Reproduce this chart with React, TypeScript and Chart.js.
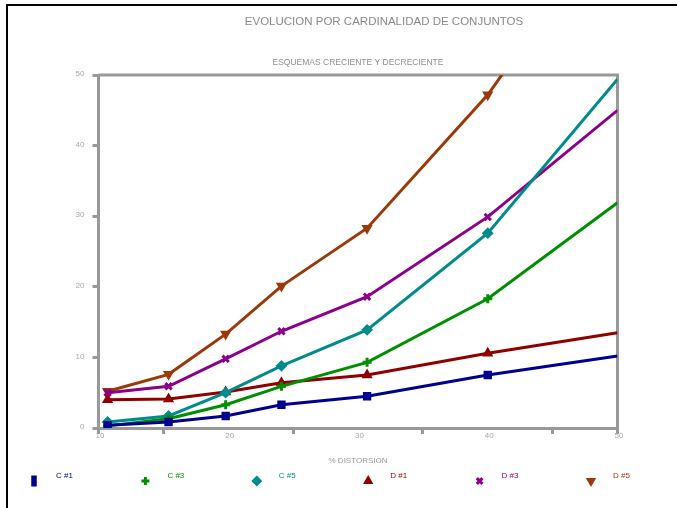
import React, { useEffect, useRef } from 'react';
import { Chart, registerables } from 'chart.js';
import { drawPointLegend } from 'chart.js/helpers';

Chart.register(...registerables);

const FONT = 'Arial, "Liberation Sans", Helvetica, sans-serif';

const TITLE = 'EVOLUCION POR CARDINALIDAD DE CONJUNTOS';
const SUBTITLE = 'ESQUEMAS CRECIENTE Y DECRECIENTE';
const X_TITLE = '% DISTORSION';

const xValues = [10.7, 15.4, 19.8, 24.1, 30.7, 40, 50];
const c1 = [0.4, 0.85, 1.7, 3.3, 4.5, 7.5, 10.2];
const c3 = [0.3, 1.3, 3.3, 5.9, 9.3, 18.3, 31.9];
const c5 = [0.85, 1.7, 5.0, 8.8, 13.9, 27.6, 49.4];
const d1 = [4.0, 4.1, 5.1, 6.4, 7.5, 10.6, 13.5];
const d3 = [5.0, 5.9, 9.8, 13.7, 18.6, 29.9, 45.0];
const d5 = [5.2, 7.6, 13.3, 20.1, 28.3, 47.2, 73];

const seriesNames = ['C #1', 'C #3', 'C #5', 'D #1', 'D #3', 'D #5'];
const seriesValues = [c1, c3, c5, d1, d3, d5];
const seriesColors = ['#000090', '#008f00', '#008c8c', '#900000', '#8c008c', '#9a3a0a'];
const pointStyles = ['rect', 'cross', 'rectRot', 'triangle', 'crossRot', 'triangle'];
const pointRotations = [0, 0, 0, 0, 0, 180];
const pointBorders = [2, 3, 2, 2, 3, 2];

const X_MIN = 10;
const X_MAX = 50;
const X_STEP = 5;
const X_LABEL_STEP = 10;
const Y_MIN = 0;
const Y_MAX = 50;
const Y_STEP = 10;

const AXIS_GRAY = '#999999';
const LABEL_GRAY = '#a8a8a8';

const decorPlugin = {
  id: 'decor',
  beforeDatasetsDraw(chart: any) {
    const { ctx, chartArea: a } = chart;
    ctx.save();
    ctx.strokeStyle = AXIS_GRAY;
    ctx.lineWidth = 3;
    ctx.beginPath();
    ctx.moveTo(a.left, a.top);
    ctx.lineTo(a.right, a.top);
    ctx.lineTo(a.right, a.bottom);
    ctx.stroke();
    ctx.restore();
  },
  afterDraw(chart: any) {
    const { ctx, chartArea: a } = chart;
    ctx.save();
    ctx.textAlign = 'center';
    ctx.textBaseline = 'middle';
    ctx.fillStyle = '#8a8a8a';
    ctx.font = `11.5px ${FONT}`;
    ctx.fillText(TITLE, 384, 22);
    ctx.font = `8.5px ${FONT}`;
    ctx.fillStyle = '#909090';
    ctx.fillText(SUBTITLE, (a.left + a.right) / 2, 63);

    // legend
    ctx.textAlign = 'left';
    ctx.font = `8px ${FONT}`;
    seriesNames.forEach((name, i) => {
      const mx = 34 + i * 111.4;
      const my = 481;
      ctx.fillStyle = seriesColors[i];
      ctx.strokeStyle = seriesColors[i];
      ctx.lineWidth = pointBorders[i];
      drawPointLegend(
        ctx,
        {
          pointStyle: pointStyles[i],
          rotation: pointRotations[i],
          radius: i === 0 ? 6.5 : 4,
          borderWidth: pointBorders[i],
        },
        mx,
        my,
        i === 0 ? 3.5 : undefined
      );
      ctx.fillStyle = seriesColors[i];
      ctx.fillText(name, mx + 22, 476);
    });
    ctx.restore();
  },
};

export default function App() {
  const canvasRef = useRef<HTMLCanvasElement | null>(null);

  useEffect(() => {
    if (!canvasRef.current) return;
    const datasets = seriesNames.map((name, i) => ({
      label: name,
      data: xValues.map((x, j) => ({ x, y: seriesValues[i][j] })),
      borderColor: seriesColors[i],
      backgroundColor: seriesColors[i],
      pointBackgroundColor: seriesColors[i],
      pointBorderColor: seriesColors[i],
      pointStyle: pointStyles[i],
      pointRotation: pointRotations[i],
      pointBorderWidth: pointBorders[i],
      pointRadius: (c: any) => (c.dataIndex === xValues.length - 1 ? 0 : 4.5),
      borderWidth: 3,
      tension: 0,
      fill: false,
    }));

    const chart = new Chart(canvasRef.current, {
      type: 'line',
      data: { datasets },
      plugins: [decorPlugin],
      options: {
        animation: false,
        responsive: false,
        maintainAspectRatio: false,
        events: [],
        layout: { padding: { left: 0, top: 75, right: 59.5, bottom: 0 } },
        plugins: {
          legend: { display: false },
          title: { display: false },
          tooltip: { enabled: false },
        },
        scales: {
          x: {
            type: 'linear',
            position: 'bottom',
            min: X_MIN,
            max: X_MAX,
            afterFit: (s: any) => {
              s.height = 80;
            },
            ticks: {
              stepSize: X_STEP,
              autoSkip: false,
              maxRotation: 0,
              color: LABEL_GRAY,
              font: { size: 8, family: FONT },
              padding: -3,
              labelOffset: 1.5,
              callback: (v: any) => (Number(v) % X_LABEL_STEP === 0 ? String(v) : ''),
            },
            grid: {
              drawOnChartArea: false,
              drawTicks: true,
              tickLength: 6,
              lineWidth: 3,
              tickWidth: 3,
              tickColor: (c: any) =>
                c.tick && Number(c.tick.value) % X_LABEL_STEP === 0 && c.tick.value !== X_MIN && c.tick.value !== X_MAX
                  ? 'rgba(0,0,0,0)'
                  : AXIS_GRAY,
            },
            border: { display: true, color: AXIS_GRAY, width: 3 },
            title: {
              display: true,
              text: X_TITLE,
              color: '#999999',
              font: { size: 8, family: FONT },
              padding: { top: 0, bottom: 42 },
            },
          },
          y: {
            type: 'linear',
            min: Y_MIN,
            max: Y_MAX,
            afterFit: (s: any) => {
              s.width = 98.5;
            },
            ticks: {
              stepSize: Y_STEP,
              color: LABEL_GRAY,
              font: { size: 8, family: FONT },
              padding: 8,
              labelOffset: -1,
            },
            grid: {
              drawOnChartArea: false,
              drawTicks: true,
              tickLength: 6,
              lineWidth: 3,
              tickWidth: 3,
              tickColor: AXIS_GRAY,
            },
            border: { display: true, color: AXIS_GRAY, width: 3 },
          },
        },
      },
    });
    return () => chart.destroy();
  }, []);

  return (
    <div style={{ position: 'absolute', left: 0, top: 0, width: 677, height: 508, background: '#fff', overflow: 'hidden' }}>
      <div
        style={{
          position: 'absolute',
          left: 6,
          top: 4,
          width: 700,
          height: 520,
          borderTop: '2px solid #000',
          borderLeft: '2px solid #000',
        }}
      />
      <canvas ref={canvasRef} width={677} height={508} style={{ position: 'absolute', left: 0, top: 0, width: 677, height: 508 }} />
    </div>
  );
}
